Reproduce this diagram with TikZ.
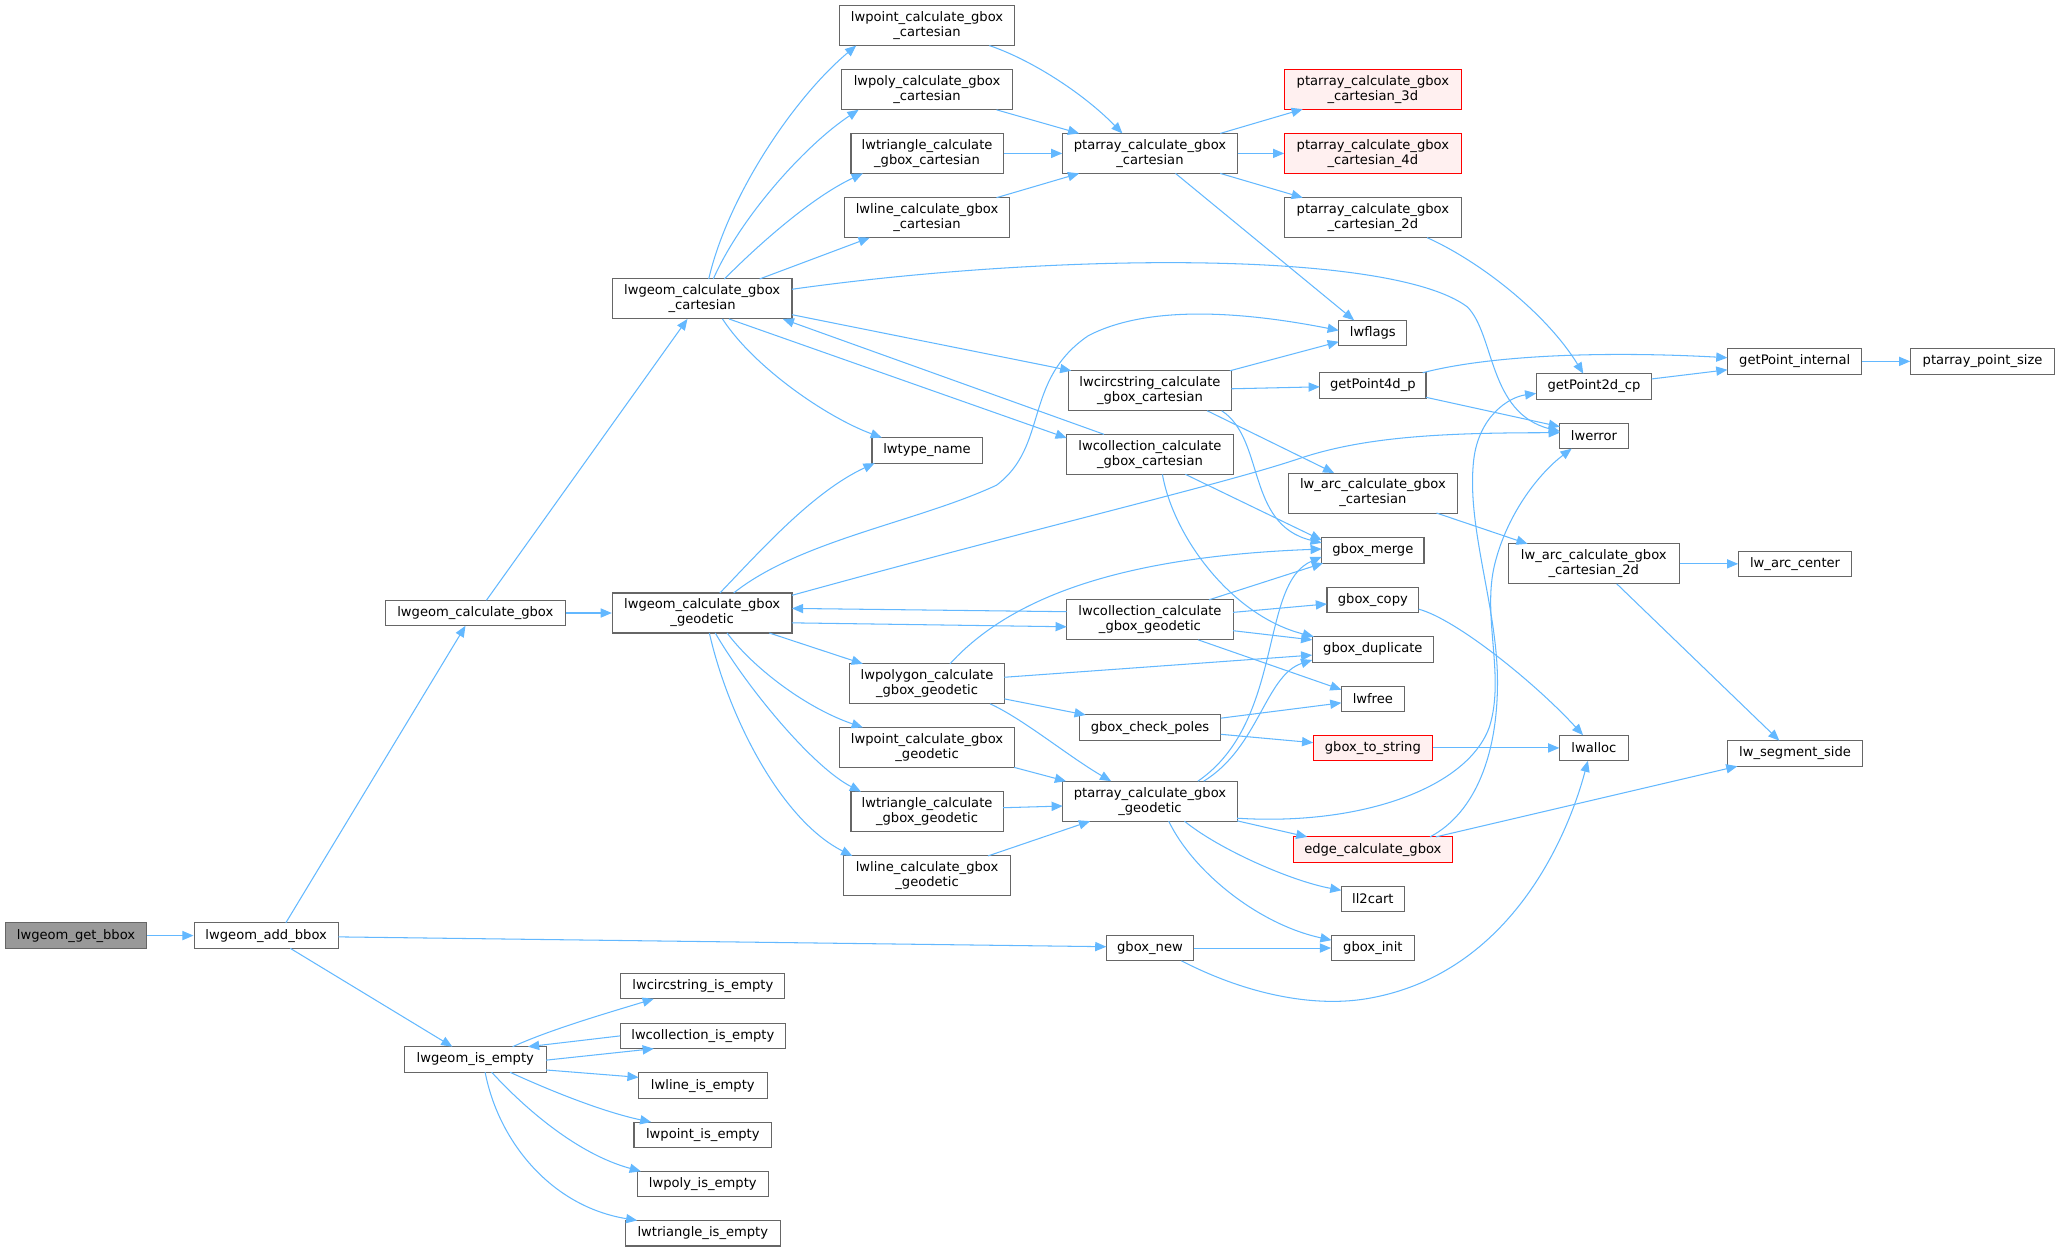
\documentclass[tikz,border=0pt]{standalone}
\usepackage{fontspec}
\setmainfont{DejaVu Sans}
\usetikzlibrary{arrows.meta}
\definecolor{edgeblue}{HTML}{63B8FF}
\definecolor{nodeborder}{HTML}{666666}
\definecolor{hlfill}{HTML}{999999}
\definecolor{redfill}{HTML}{FFF0F0}
\tikzset{
  nd/.style={draw=nodeborder, fill=white, rectangle, inner sep=0pt, minimum height=19.5pt, align=center, font=\fontsize{10}{11.4}\selectfont, line width=0.8pt},
  nd2/.style={nd, minimum height=30.5pt},
  rednd/.style={draw=red, fill=redfill},
  hl/.style={fill=hlfill},
  e/.style={draw=edgeblue, line width=0.8pt, -{Triangle[length=8.5pt,width=7pt]}}
}
\begin{document}
\begin{tikzpicture}[x=1pt,y=-1pt]
\useasboundingbox (0,0) rectangle (1568,954);
% column 1-2
\node[nd,hl,minimum width=108pt] (getbbox) at (58,713.5) {lwgeom\_get\_bbox};
\node[nd,minimum width=110pt] (addbbox) at (203,713.5) {lwgeom\_add\_bbox};
\node[nd,minimum width=137pt] (calcgbox) at (362.5,467.5) {lwgeom\_calculate\_gbox};
\node[nd,minimum width=108pt] (isempty) at (362.5,808) {lwgeom\_is\_empty};
% column 3
\node[nd2,minimum width=137pt] (cart) at (535.5,228) {lwgeom\_calculate\_gbox\\\_cartesian};
\node[nd2,minimum width=137pt] (geo) at (535.5,467.5) {lwgeom\_calculate\_gbox\\\_geodetic};
\node[nd,minimum width=125pt] (circempty) at (536,752) {lwcircstring\_is\_empty};
\node[nd,minimum width=126pt] (collempty) at (536,790) {lwcollection\_is\_empty};
\node[nd,minimum width=98pt] (lineempty) at (536,828) {lwline\_is\_empty};
\node[nd,minimum width=105pt] (pointempty) at (536,865.5) {lwpoint\_is\_empty};
\node[nd,minimum width=100pt] (polyempty) at (536,903) {lwpoly\_is\_empty};
\node[nd,minimum width=118pt] (triempty) at (536,940.5) {lwtriangle\_is\_empty};
% column 4
\node[nd2,minimum width=134pt] (pointcart) at (707,19.5) {lwpoint\_calculate\_gbox\\\_cartesian};
\node[nd2,minimum width=130pt] (polycart) at (707,68.5) {lwpoly\_calculate\_gbox\\\_cartesian};
\node[nd2,minimum width=116pt] (tricart) at (707,117) {lwtriangle\_calculate\\\_gbox\_cartesian};
\node[nd2,minimum width=126pt] (linecart) at (707,166) {lwline\_calculate\_gbox\\\_cartesian};
\node[nd,minimum width=84pt] (typename) at (707,343.5) {lwtype\_name};
\node[nd2,minimum width=118pt] (polygeo) at (707,521.5) {lwpolygon\_calculate\\\_gbox\_geodetic};
\node[nd2,minimum width=134pt] (pointgeo) at (707,570) {lwpoint\_calculate\_gbox\\\_geodetic};
\node[nd2,minimum width=116pt] (trigeo) at (707,619) {lwtriangle\_calculate\\\_gbox\_geodetic};
\node[nd2,minimum width=127pt] (linegeo) at (707,668) {lwline\_calculate\_gbox\\\_geodetic};
% column 5
\node[nd2,minimum width=133pt] (ptcart) at (877,117) {ptarray\_calculate\_gbox\\\_cartesian};
\node[nd2,minimum width=124pt] (circcart) at (877,298) {lwcircstring\_calculate\\\_gbox\_cartesian};
\node[nd2,minimum width=127pt] (collcart) at (877,346.5) {lwcollection\_calculate\\\_gbox\_cartesian};
\node[nd2,minimum width=127pt] (collgeo) at (877,472.7) {lwcollection\_calculate\\\_gbox\_geodetic};
\node[nd,minimum width=108pt] (poles) at (877,555) {gbox\_check\_poles};
\node[nd2,minimum width=133pt] (ptgeo) at (877,611) {ptarray\_calculate\_gbox\\\_geodetic};
\node[nd,minimum width=66.5pt] (gboxnew) at (877,723) {gbox\_new};
% column 6
\node[nd2,rednd,minimum width=134.5pt] (pt3d) at (1047,68) {ptarray\_calculate\_gbox\\\_cartesian\_3d};
\node[nd2,rednd,minimum width=134.5pt] (pt4d) at (1047,117) {ptarray\_calculate\_gbox\\\_cartesian\_4d};
\node[nd2,minimum width=134.5pt] (pt2d) at (1047,166) {ptarray\_calculate\_gbox\\\_cartesian\_2d};
\node[nd,minimum width=52pt] (lwflags) at (1047,254) {lwflags};
\node[nd,minimum width=81pt] (gp4d) at (1047,294) {getPoint4d\_p};
\node[nd2,minimum width=129pt] (arccart) at (1047,376) {lw\_arc\_calculate\_gbox\\\_cartesian};
\node[nd,minimum width=78pt] (merge) at (1047,419.7) {gbox\_merge};
\node[nd,minimum width=70pt] (copy) at (1047,457.6) {gbox\_copy};
\node[nd,minimum width=92.5pt] (dup) at (1047,495.3) {gbox\_duplicate};
\node[nd,minimum width=48pt] (lwfree) at (1047,533) {lwfree};
\node[nd,rednd,minimum width=91pt] (tostring) at (1047,570.4) {gbox\_to\_string};
\node[nd,rednd,minimum width=121pt] (edge) at (1047,648) {edge\_calculate\_gbox};
\node[nd,minimum width=48pt] (ll2cart) at (1047,685.5) {ll2cart};
\node[nd,minimum width=63pt] (init) at (1047,723) {gbox\_init};
% column 7
\node[nd,minimum width=88pt] (gp2d) at (1215.6,294.7) {getPoint2d\_cp};
\node[nd,minimum width=52pt] (lwerror) at (1215.6,332.4) {lwerror};
\node[nd2,minimum width=130pt] (arc2d) at (1215.5,430) {lw\_arc\_calculate\_gbox\\\_cartesian\_2d};
\node[nd,minimum width=52pt] (lwalloc) at (1215.6,570.4) {lwalloc};
% column 8-9
\node[nd,minimum width=102.6pt] (gpint) at (1368.7,275.6) {getPoint\_internal};
\node[nd,minimum width=86pt] (arccenter) at (1369,430) {lw\_arc\_center};
\node[nd,minimum width=103pt] (segside) at (1369,574.6) {lw\_segment\_side};
\node[nd,minimum width=109.6pt] (ptsize) at (1512,275.6) {ptarray\_point\_size};

% edges
\draw[e] (getbbox) -- (addbbox);
\draw[e] ([shift={(15,-9.75)}]addbbox.center) -- ([shift={(-7.5,9.75)}]calcgbox.center);
\draw[e] ([shift={(55,1)}]addbbox.center) -- ([shift={(-33.25,-1)}]gboxnew.center);
\draw[e] ([shift={(18.4,9.75)}]addbbox.center) -- ([shift={(-17.5,-9.75)}]isempty.center);
\draw[e] ([shift={(8.5,-9.75)}]calcgbox.center) -- ([shift={(-11.2,15.25)}]cart.center);
\draw[e] (calcgbox) -- (geo);
\draw[e] ([shift={(5,-15.25)}]cart.center) .. controls (555,150) and (605,75) .. ([shift={(-54,15.25)}]pointcart.center);
\draw[e] ([shift={(8.5,-15.25)}]cart.center) .. controls (565,165) and (615,110) .. ([shift={(-52.2,15.25)}]polycart.center);
\draw[e] ([shift={(17,-15.25)}]cart.center) .. controls (580,185) and (620,150) .. ([shift={(-49,15.25)}]tricart.center);
\draw[e] ([shift={(43.8,-15.25)}]cart.center) -- ([shift={(-43.7,15.25)}]linecart.center);
\draw[e] ([shift={(68.5,-7.4)}]cart.center) .. controls (800,193) and (1060,190) .. (1119,234) .. controls (1140,255) and (1135,315) .. ([shift={(-26,-3.4)}]lwerror.center);
\draw[e] ([shift={(68.5,12)}]cart.center) -- ([shift={(-60,-15.25)}]circcart.center);
\draw[e] ([shift={(20.5,15.25)}]cart.center) -- ([shift={(-63.5,-12.5)}]collcart.center);
\draw[e] ([shift={(-35,-15.25)}]collcart.center) -- ([shift={(61.5,15.25)}]cart.center);
\draw[e] ([shift={(15.5,15.25)}]cart.center) .. controls (575,280) and (630,318) .. ([shift={(-34.5,-9.75)}]typename.center);
\draw[e] ([shift={(24,-15.25)}]geo.center) .. controls (610,412) and (700,398) .. (760,370) .. controls (800,340) and (780,290) .. (830,256) .. controls (880,230) and (960,240) .. ([shift={(-26,-2)}]lwflags.center);
\draw[e] ([shift={(13.5,-15.25)}]geo.center) .. controls (580,420) and (620,375) .. ([shift={(-40,9.75)}]typename.center);
\draw[e] ([shift={(68.5,-13.5)}]geo.center) .. controls (800,400) and (930,370) .. (990,350) .. controls (1040,333) and (1100,330) .. ([shift={(-26,-2.4)}]lwerror.center);
\draw[e] ([shift={(68.5,7.5)}]geo.center) -- ([shift={(-63.5,5.3)}]collgeo.center);
\draw[e] ([shift={(-63.5,-6.2)}]collgeo.center) -- ([shift={(68.5,-3.5)}]geo.center);
\draw[e] ([shift={(51.2,15.25)}]geo.center) -- ([shift={(-49,-15.25)}]polygeo.center);
\draw[e] ([shift={(19,15.25)}]geo.center) .. controls (575,510) and (615,540) .. ([shift={(-49,-15.25)}]pointgeo.center);
\draw[e] ([shift={(10,15.25)}]geo.center) .. controls (570,525) and (620,585) .. ([shift={(-50.4,-15.25)}]trigeo.center);
\draw[e] ([shift={(5.5,15.25)}]geo.center) .. controls (555,545) and (595,625) .. ([shift={(-57,-15.25)}]linegeo.center);
\draw[e] ([shift={(47.5,15.25)}]pointcart.center) .. controls (785,45) and (825,70) .. ([shift={(-21,-15.25)}]ptcart.center);
\draw[e] ([shift={(53,15.25)}]polycart.center) -- ([shift={(-54,-15.25)}]ptcart.center);
\draw[e] (tricart) -- (ptcart);
\draw[e] ([shift={(53,-15.25)}]linecart.center) -- ([shift={(-54,15.25)}]ptcart.center);
\draw[e] ([shift={(53.6,-15.25)}]ptcart.center) -- ([shift={(-53.5,15.25)}]pt3d.center);
\draw[e] (ptcart) -- (pt4d);
\draw[e] ([shift={(53.6,15.25)}]ptcart.center) -- ([shift={(-53.5,-15.25)}]pt2d.center);
\draw[e] ([shift={(19.5,15.25)}]ptcart.center) -- ([shift={(-14.3,-9.75)}]lwflags.center);
\draw[e] ([shift={(41.4,15.25)}]pt2d.center) .. controls (1130,200) and (1180,240) .. ([shift={(-8.1,-9.75)}]gp2d.center);
\draw[e] ([shift={(44,-5.7)}]gp2d.center) -- ([shift={(-51.3,6.4)}]gpint.center);
\draw[e] (gpint) -- (ptsize);
\draw[e] ([shift={(38,-9.75)}]gp4d.center) .. controls (1140,270) and (1230,268) .. ([shift={(-51.3,-2.8)}]gpint.center);
\draw[e] ([shift={(40.5,9)}]gp4d.center) -- ([shift={(-26,-7)}]lwerror.center);
\draw[e] ([shift={(62,-1.5)}]circcart.center) -- ([shift={(-40.5,1)}]gp4d.center);
\draw[e] ([shift={(61,-15.25)}]circcart.center) -- ([shift={(-26,6.6)}]lwflags.center);
\draw[e] ([shift={(43.6,15.25)}]circcart.center) -- ([shift={(-29.5,-15.25)}]arccart.center);
\draw[e] ([shift={(54.7,15.25)}]circcart.center) .. controls (965,335) and (950,400) .. ([shift={(-39,-5.7)}]merge.center);
\draw[e] ([shift={(27,15.25)}]collcart.center) -- ([shift={(-39,-7.7)}]merge.center);
\draw[e] ([shift={(9.5,15.25)}]collcart.center) .. controls (895,410) and (940,470) .. ([shift={(-45,-9.75)}]dup.center);
\draw[e] ([shift={(45,-15.25)}]collgeo.center) -- ([shift={(-38,9.75)}]merge.center);
\draw[e] ([shift={(63.5,-5.7)}]collgeo.center) -- ([shift={(-35,3)}]copy.center);
\draw[e] ([shift={(63.5,8.3)}]collgeo.center) -- ([shift={(-46.25,-7.3)}]dup.center);
\draw[e] ([shift={(36.7,15.25)}]collgeo.center) -- ([shift={(-24,-7)}]lwfree.center);
\draw[e] ([shift={(17.5,-15.25)}]polygeo.center) .. controls (765,462) and (840,425) .. ([shift={(-39,-1)}]merge.center);
\draw[e] ([shift={(59,-5)}]polygeo.center) -- ([shift={(-46.25,4.3)}]dup.center);
\draw[e] ([shift={(59,11.5)}]polygeo.center) -- ([shift={(-49,-9.75)}]poles.center);
\draw[e] ([shift={(48,15.25)}]polygeo.center) .. controls (780,548) and (815,577) .. ([shift={(-29.6,-15.25)}]ptgeo.center);
\draw[e] ([shift={(54,-7.3)}]poles.center) -- ([shift={(-24,3)}]lwfree.center);
\draw[e] ([shift={(54,5)}]poles.center) -- ([shift={(-45.5,-4)}]tostring.center);
\draw[e] (tostring) -- (lwalloc);
\draw[e] ([shift={(35,7)}]copy.center) .. controls (1110,472) and (1170,520) .. ([shift={(-8.3,-9.75)}]lwalloc.center);
\draw[e] (gboxnew) -- (init);
\draw[e] ([shift={(24,9.75)}]gboxnew.center) .. controls (950,758) and (1000,768) .. (1040,762) .. controls (1150,745) and (1195,640) .. ([shift={(-4.6,9.75)}]lwalloc.center);
\draw[e] ([shift={(66.5,15.25)}]pointgeo.center) -- ([shift={(-64,-15.25)}]ptgeo.center);
\draw[e] ([shift={(58,-3)}]trigeo.center) -- ([shift={(-66.5,3.7)}]ptgeo.center);
\draw[e] ([shift={(46.5,-15.25)}]linegeo.center) -- ([shift={(-45.7,15.25)}]ptgeo.center);
\draw[e] ([shift={(36.6,-15.25)}]ptgeo.center) .. controls (980,550) and (960,445) .. ([shift={(-39,5)}]merge.center);
\draw[e] ([shift={(41,-15.25)}]ptgeo.center) .. controls (960,570) and (965,515) .. ([shift={(-46.25,8)}]dup.center);
\draw[e] ([shift={(66.5,13)}]ptgeo.center) .. controls (1040,630) and (1120,600) .. (1136,554) .. controls (1148,515) and (1130,470) .. (1140,430) .. controls (1150,390) and (1175,360) .. ([shift={(-17,9.75)}]lwerror.center);
\draw[e] ([shift={(66.5,15)}]ptgeo.center) -- ([shift={(-50,-9.75)}]edge.center);
\draw[e] ([shift={(26.3,15.25)}]ptgeo.center) .. controls (930,648) and (985,672) .. ([shift={(-24,-6.5)}]ll2cart.center);
\draw[e] ([shift={(14.3,15.25)}]ptgeo.center) .. controls (910,665) and (960,705) .. ([shift={(-31.5,-6)}]init.center);
\draw[e] ([shift={(48,-9.75)}]edge.center) -- ([shift={(-44,9.75)}]segside.center);
\draw[e] ([shift={(43.6,-9.75)}]edge.center) .. controls (1125,620) and (1143,575) .. (1142,516) .. controls (1141,460) and (1118,400) .. (1124,350) .. controls (1128,318) and (1150,303) .. ([shift={(-44,5.3)}]gp2d.center);
\draw[e] ([shift={(48.5,15.25)}]arccart.center) -- ([shift={(-50.5,-15.25)}]arc2d.center);
\draw[e] (arc2d) -- (arccenter);
\draw[e] ([shift={(17.5,15.25)}]arc2d.center) -- ([shift={(-12,-9.75)}]segside.center);
\draw[e] ([shift={(28.5,-9.75)}]isempty.center) .. controls (420,785) and (465,772) .. ([shift={(-37.4,9.75)}]circempty.center);
\draw[e] ([shift={(-63,0)}]collempty.center) -- ([shift={(40.2,-9.75)}]isempty.center);
\draw[e] ([shift={(54,0.5)}]isempty.center) -- ([shift={(-37.4,9.75)}]collempty.center);
\draw[e] ([shift={(54,8)}]isempty.center) -- ([shift={(-49,-6.4)}]lineempty.center);
\draw[e] ([shift={(26.5,9.75)}]isempty.center) .. controls (420,832) and (460,848) .. ([shift={(-39.3,-9.75)}]pointempty.center);
\draw[e] ([shift={(12.5,9.75)}]isempty.center) .. controls (400,845) and (440,880) .. ([shift={(-47.3,-9.75)}]polyempty.center);
\draw[e] ([shift={(7.5,9.75)}]isempty.center) .. controls (380,870) and (420,920) .. ([shift={(-50,-9.75)}]triempty.center);
\end{tikzpicture}
\end{document}
